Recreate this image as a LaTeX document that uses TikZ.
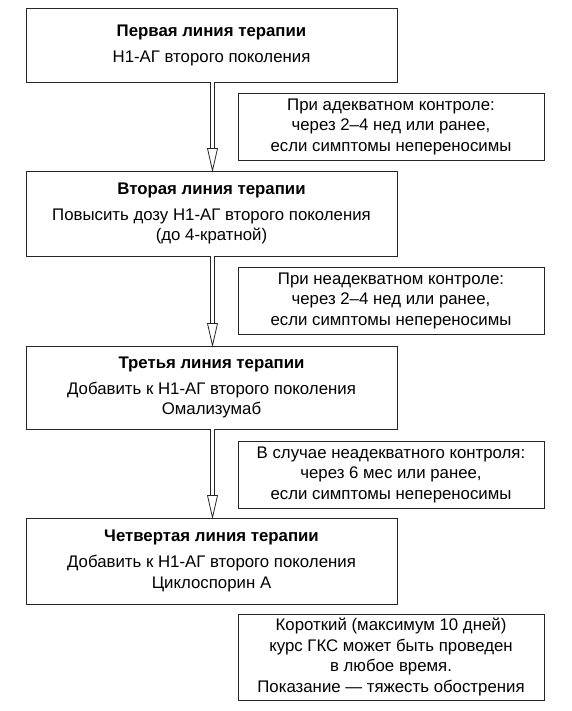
\documentclass[tikz,border=0pt]{standalone}
\usepackage{fontspec}
\setmainfont{Liberation Sans}
\usetikzlibrary{calc}
\begin{document}
\begin{tikzpicture}[x=1pt,y=-1pt,
  box/.style={draw=black!85, line width=0.9pt, align=center, inner sep=0pt,
    font=\fontsize{16.8}{20.5}\selectfont},
  mainbox/.style={box, minimum width=371pt},
  sidebox/.style={box, minimum width=306pt},
  shaft/.style={draw=black!85, line width=0.8pt, double=white, double distance=3.4pt},
  head/.style={draw=black!85, line width=0.8pt, fill=white, line join=miter}
]
\useasboundingbox (0,0) rectangle (572,711);
\node[mainbox, minimum height=74pt] (b1) at (211.5,45)
  {\textbf{Первая линия терапии}\\[5.5pt]Н1-АГ второго поколения};
\node[mainbox, minimum height=85pt] (b2) at (211.5,213.5)
  {\textbf{Вторая линия терапии}\\[5.5pt]Повысить дозу Н1-АГ второго поколения\\(до 4-кратной)};
\node[mainbox, minimum height=83pt] (b3) at (211.5,387.5)
  {\textbf{Третья линия терапии}\\[5.5pt]Добавить к Н1-АГ второго поколения\\Омализумаб};
\node[mainbox, minimum height=86pt] (b4) at (211.5,561)
  {\textbf{Четвертая линия терапии}\\[5.5pt]Добавить к Н1-АГ второго поколения\\Циклоспорин А};
\node[sidebox, minimum height=67pt] (s1) at (391,126.5)
  {При адекватном контроле:\\через 2–4 нед или ранее,\\если симптомы непереносимы};
\node[sidebox, minimum height=67pt] (s2) at (391,300.5)
  {При неадекватном контроле:\\через 2–4 нед или ранее,\\если симптомы непереносимы};
\node[sidebox, minimum height=67pt] (s3) at (391,474.5)
  {В случае неадекватного контроля:\\через 6 мес или ранее,\\если симптомы непереносимы};
\node[sidebox, minimum height=86pt] (s4) at (391,657)
  {Короткий (максимум 10 дней)\\курс ГКС может быть проведен\\в любое время.\\Показание — тяжесть обострения};
\foreach \a/\b in {b1/b2, b2/b3, b3/b4}{
  \draw[shaft] ($(\a.south)+(1,0)$) -- ($(\b.north)+(1,-21)$);
  \draw[head] ($(\b.north)+(-4,-22)$) -- ($(\b.north)+(6,-22)$) -- ($(\b.north)+(1,0)$) -- cycle;
}
\end{tikzpicture}
\end{document}
